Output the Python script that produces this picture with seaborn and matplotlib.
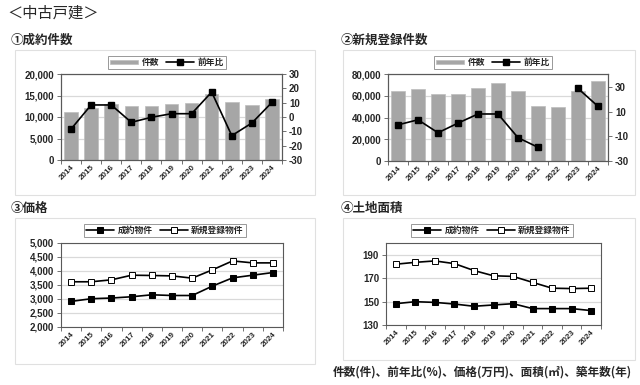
import numpy as np
import pandas as pd
import matplotlib
matplotlib.use("Agg")
import matplotlib.pyplot as plt
from matplotlib.patches import Rectangle
import seaborn as sns

years = ["2014", "2015", "2016", "2017", "2018", "2019", "2020", "2021", "2022", "2023", "2024"]

# ① 成約件数
contract_count = [11100, 12150, 13100, 12650, 12650, 12950, 13300, 15350, 13400, 12800, 14150]
contract_yoy = [-8.4, 8.4, 8.4, -3.7, -0.2, 2.3, 2.3, 17.4, -13.0, -4.2, 10.2]

# ② 新規登録件数
new_count = [64100, 66000, 61400, 61700, 66900, 72100, 64100, 50400, 50100, 64700, 73300]
new_yoy = [-0.7, 3.4, -7.1, 0.7, 8.1, 8.1, -11.1, -18.9, np.nan, 28.8, 14.3]

# ③ 価格
price_contract = [2915, 3010, 3035, 3080, 3150, 3125, 3125, 3460, 3755, 3850, 3945]
price_new = [3615, 3615, 3685, 3850, 3840, 3825, 3745, 4040, 4360, 4290, 4290]

# ④ 土地面積
land_contract = [148.2, 149.9, 149.3, 147.9, 146.0, 147.1, 148.2, 144.0, 144.0, 144.0, 142.3]
land_new = [181.9, 183.5, 184.7, 182.4, 176.5, 172.0, 171.5, 166.4, 161.4, 161.1, 161.4]

sns.set_theme(style="white")
plt.rcParams['font.family'] = ['Liberation Sans', 'Noto Sans CJK JP', 'DejaVu Sans']
plt.rcParams['axes.unicode_minus'] = False

W, H = 640, 385
fig = plt.figure(figsize=(W / 100, H / 100), dpi=100)
fig.patch.set_facecolor("white")

BAR = "#a6a6a6"
GRID = "#d9d9d9"
SPINE = "#595959"
TICK_FS = 7
XT_FS = 5.8
CJK = ['Noto Sans CJK JP', 'DejaVu Sans']


def ax_px(x0, y0, x1, y1):
    return fig.add_axes([x0 / W, 1 - y1 / H, (x1 - x0) / W, (y1 - y0) / H])


def box_px(x0, y0, x1, y1):
    fig.add_artist(Rectangle((x0 / W, 1 - y1 / H), (x1 - x0) / W, (y1 - y0) / H,
                             transform=fig.transFigure, fill=False,
                             edgecolor="#e0e0e0", lw=0.8))


def style_axes(ax):
    for s in ax.spines.values():
        s.set_color(SPINE)
        s.set_linewidth(0.8)
    ax.set_xlim(-0.5, len(years) - 0.5)
    ax.set_xticks(range(len(years)))
    ax.set_xticklabels(years, rotation=45, ha="right", rotation_mode="anchor",
                       fontsize=XT_FS, fontweight="bold")
    ax.set_xticks(np.arange(-0.5, len(years), 1.0), minor=True)
    ax.tick_params(axis="x", which="major", length=0, pad=3)
    ax.tick_params(axis="x", which="minor", length=3, width=0.6, color=SPINE, direction="out", bottom=True)
    ax.tick_params(axis="y", which="major", length=3, width=0.6, color=SPINE, direction="out",
                   left=True, labelsize=TICK_FS, pad=2)
    for lb in ax.get_yticklabels():
        lb.set_fontweight("bold")
    ax.yaxis.grid(True, color=GRID, lw=0.9)
    ax.xaxis.grid(False)
    ax.set_axisbelow(True)
    ax.set_xlabel("")
    ax.set_ylabel("")


def fmt_thousands(ax):
    ax.set_yticklabels([f"{int(v):,}" for v in ax.get_yticks()], fontsize=TICK_FS, fontweight="bold")


def make_legend(handles, labels, bbox, **kw):
    leg = fig.legend(handles, labels, loc="center", bbox_to_anchor=bbox,
                     bbox_transform=fig.transFigure, ncol=2, frameon=True,
                     fancybox=False, edgecolor="#7f7f7f", handlelength=3.2,
                     borderpad=0.25, columnspacing=0.8, handletextpad=0.4,
                     prop={"weight": "bold", "size": 6.3, "family": CJK}, **kw)
    leg.get_frame().set_linewidth(0.7)
    return leg


def bar_line_panel(ax, counts, yoy, ylim, yticks, rlim, rticks, legend_bbox):
    df = pd.DataFrame({"year": years, "count": counts})
    sns.barplot(data=df, x="year", y="count", color=BAR, width=0.67, ax=ax,
                edgecolor="#bdbdbd", linewidth=0.5, label="件数", saturation=1)
    if ax.get_legend() is not None:
        ax.get_legend().remove()
    ax.set_ylim(*ylim)
    ax.set_yticks(yticks)
    fmt_thousands(ax)
    style_axes(ax)
    ax2 = ax.twinx()
    ax2.plot(range(len(years)), yoy, color="black", lw=1.2, marker="s", ms=4.2,
             markerfacecolor="black", markeredgecolor="black", label="前年比")
    ax2.set_ylim(*rlim)
    ax2.set_yticks(rticks)
    ax2.set_yticklabels([f"{v}" for v in rticks], fontsize=TICK_FS, fontweight="bold")
    ax2.tick_params(axis="y", length=3, width=0.6, color=SPINE, direction="out", right=True, pad=2)
    ax2.grid(False)
    for s in ax2.spines.values():
        s.set_color(SPINE)
        s.set_linewidth(0.8)
    h1, l1 = ax.get_legend_handles_labels()
    h2, l2 = ax2.get_legend_handles_labels()
    make_legend(h1[:1] + h2, l1[:1] + l2, legend_bbox, handleheight=0.45)


def two_line_panel(ax, a, b, ylim, yticks, thousands, legend_bbox):
    df = pd.DataFrame({"x": range(len(years)), "a": a, "b": b})
    sns.lineplot(data=df, x="x", y="a", ax=ax, color="black", lw=1.2, marker="s", ms=4.2,
                 markerfacecolor="black", markeredgecolor="black", label="成約物件")
    sns.lineplot(data=df, x="x", y="b", ax=ax, color="black", lw=1.2, marker="s", ms=4.2,
                 markerfacecolor="white", markeredgecolor="black", markeredgewidth=0.7, label="新規登録物件")
    ax.set_ylim(*ylim)
    ax.set_yticks(yticks)
    if thousands:
        fmt_thousands(ax)
    else:
        ax.set_yticklabels([str(v) for v in yticks], fontsize=TICK_FS, fontweight="bold")
    style_axes(ax)
    h, l = ax.get_legend_handles_labels()
    ax.get_legend().remove()
    make_legend(h, l, legend_bbox)


# chart boxes
box_px(15, 50, 315, 195)
box_px(343, 50, 635, 195)
box_px(15, 218, 315, 364)
box_px(343, 218, 635, 360)

# titles
fig.text(7 / W, 1 - 13 / H, "＜中古戸建＞", fontsize=11, va="center", ha="left", family=CJK)
fig.text(11 / W, 1 - 40 / H, "①成約件数", fontsize=9, fontweight="bold", va="center", ha="left", family=CJK)
fig.text(341 / W, 1 - 40 / H, "②新規登録件数", fontsize=9, fontweight="bold", va="center", ha="left", family=CJK)
fig.text(11 / W, 1 - 208 / H, "③価格", fontsize=9, fontweight="bold", va="center", ha="left", family=CJK)
fig.text(341 / W, 1 - 208 / H, "④土地面積", fontsize=9, fontweight="bold", va="center", ha="left", family=CJK)
fig.text(632 / W, 1 - 372 / H, "件数(件)、前年比(%)、価格(万円)、面積(㎡)、築年数(年)",
         fontsize=8.4, fontweight="bold", va="center", ha="right", family=CJK)

ax1 = ax_px(61, 74, 282, 160)
bar_line_panel(ax1, contract_count, contract_yoy, (0, 20000), [0, 5000, 10000, 15000, 20000],
               (-30, 30), [-30, -20, -10, 0, 10, 20, 30], (167 / W, 1 - 62.5 / H))

ax2_ = ax_px(388, 74, 608, 161)
bar_line_panel(ax2_, new_count, new_yoy, (0, 80000), [0, 20000, 40000, 60000, 80000],
               (-30, 40.5), [-30, -10, 10, 30], (493 / W, 1 - 62.5 / H))

ax3 = ax_px(61, 243, 283, 327)
two_line_panel(ax3, price_contract, price_new, (2000, 5000),
               [2000, 2500, 3000, 3500, 4000, 4500, 5000], True, (165 / W, 1 - 230.5 / H))

ax4 = ax_px(386, 243, 601, 325)
two_line_panel(ax4, land_contract, land_new, (130, 200), [130, 150, 170, 190], False,
               (492 / W, 1 - 230.5 / H))

fig.savefig("out.png", dpi=100, facecolor="white")
